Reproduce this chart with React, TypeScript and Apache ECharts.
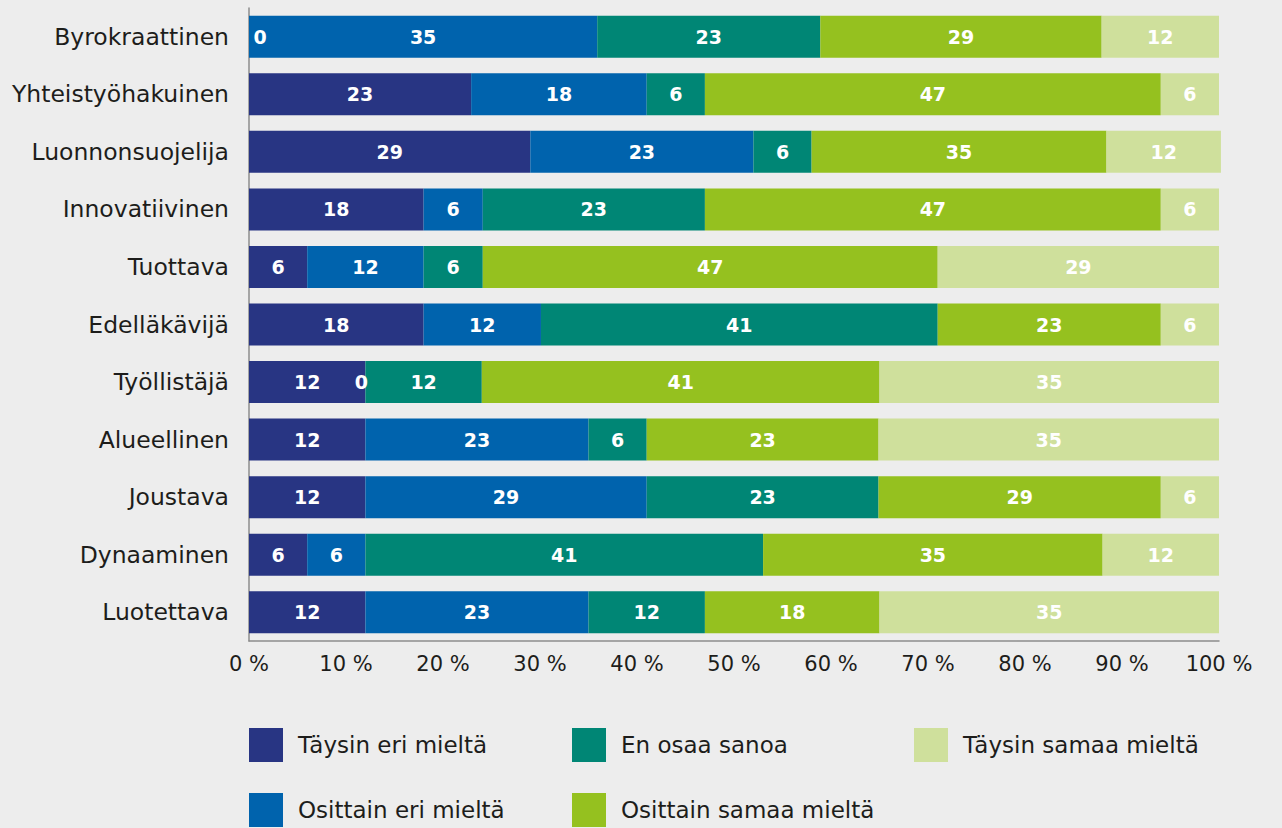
import React, { useEffect, useRef } from "react";
import * as echarts from "echarts";

const categories = [
  "Byrokraattinen",
  "Yhteistyöhakuinen",
  "Luonnonsuojelija",
  "Innovatiivinen",
  "Tuottava",
  "Edelläkävijä",
  "Työllistäjä",
  "Alueellinen",
  "Joustava",
  "Dynaaminen",
  "Luotettava",
];

const seriesNames = [
  "Täysin eri mieltä",
  "Osittain eri mieltä",
  "En osaa sanoa",
  "Osittain samaa mieltä",
  "Täysin samaa mieltä",
];

// segment widths (% of bar)
const taysinEri = [0, 22.9, 29, 18, 6, 18, 12, 12, 12, 6, 12];
const osittainEri = [35.9, 18.1, 23, 6.1, 12, 12.1, 0, 23, 29, 6, 23];
const enOsaa = [23, 6, 6, 22.9, 6.1, 40.9, 12, 6, 23.9, 41, 12];
const osittainSamaa = [29, 47, 30.4, 47, 46.9, 23, 41, 23.9, 29.1, 35, 18];
const taysinSamaa = [12.1, 6, 11.8, 6, 29, 6, 35, 35.1, 6, 12, 35];

// printed value labels
const labTaysinEri = [0, 23, 29, 18, 6, 18, 12, 12, 12, 6, 12];
const labOsittainEri = [35, 18, 23, 6, 12, 12, 0, 23, 29, 6, 23];
const labEnOsaa = [23, 6, 6, 23, 6, 41, 12, 6, 23, 41, 12];
const labOsittainSamaa = [29, 47, 35, 47, 47, 23, 41, 23, 29, 35, 18];
const labTaysinSamaa = [12, 6, 12, 6, 29, 6, 35, 35, 6, 12, 35];

const xTicks = [0, 10, 20, 30, 40, 50, 60, 70, 80, 90, 100];

const colors = ["#283583", "#0063ad", "#008675", "#95c11f", "#cfe09c"];

const FONT = "DejaVu Sans";

export default function App() {
  const ref = useRef<HTMLDivElement>(null);

  useEffect(() => {
    if (!ref.current) return;
    const chart = echarts.init(ref.current, undefined, { renderer: "svg" });

    const values = [taysinEri, osittainEri, enOsaa, osittainSamaa, taysinSamaa];
    const labels = [labTaysinEri, labOsittainEri, labEnOsaa, labOsittainSamaa, labTaysinSamaa];

    const series = values.map((vals, si) => ({
      name: seriesNames[si],
      type: "bar",
      stack: "total",
      barWidth: 42,
      clip: false,
      itemStyle: { color: colors[si] },
      label: {
        show: true,
        position: "inside",
        color: "#ffffff",
        fontFamily: FONT,
        fontWeight: "bold",
        fontSize: 19,
        formatter: (p: any) => String(labels[si][p.dataIndex]),
      },
      data: vals.map((v) =>
        v === 0
          ? { value: v, label: { offset: [si === 0 ? 11 : -4, 0] } }
          : { value: v }
      ),
    }));

    const legendBase = {
      orient: "vertical",
      top: 728,
      itemWidth: 34,
      itemHeight: 34,
      itemGap: 31,
      padding: 0,
      icon: "rect",
      textStyle: { fontFamily: FONT, fontSize: 23, color: "#1d1d1b", padding: [0, 0, 0, 10] },
    };

    chart.setOption({
      animation: false,
      backgroundColor: "#ededed",
      grid: { left: 249, right: 63, top: 8, bottom: 187, containLabel: false },
      legend: [
        { ...legendBase, left: 249, data: [seriesNames[0], seriesNames[1]] },
        { ...legendBase, left: 572, data: [seriesNames[2], seriesNames[3]] },
        { ...legendBase, left: 914, data: [seriesNames[4]] },
      ],
      xAxis: {
        type: "value",
        min: xTicks[0],
        max: xTicks[xTicks.length - 1],
        interval: 10,
        axisLine: { show: true, lineStyle: { color: "#8c8c8c", width: 1.5 } },
        axisTick: { show: false },
        splitLine: { show: false },
        axisLabel: {
          formatter: "{value} %",
          fontFamily: FONT,
          fontSize: 21,
          color: "#1d1d1b",
          margin: 12,
        },
      },
      yAxis: {
        type: "category",
        inverse: true,
        data: categories,
        axisLine: { show: true, lineStyle: { color: "#8c8c8c", width: 1.5 } },
        axisTick: { show: false },
        axisLabel: {
          fontFamily: FONT,
          fontSize: 23.5,
          color: "#1d1d1b",
          margin: 20,
        },
      },
      series,
    });

    return () => chart.dispose();
  }, []);

  return (
    <div
      ref={ref}
      style={{ position: "fixed", left: 0, top: 0, width: 1282, height: 828, background: "#ededed" }}
    />
  );
}
